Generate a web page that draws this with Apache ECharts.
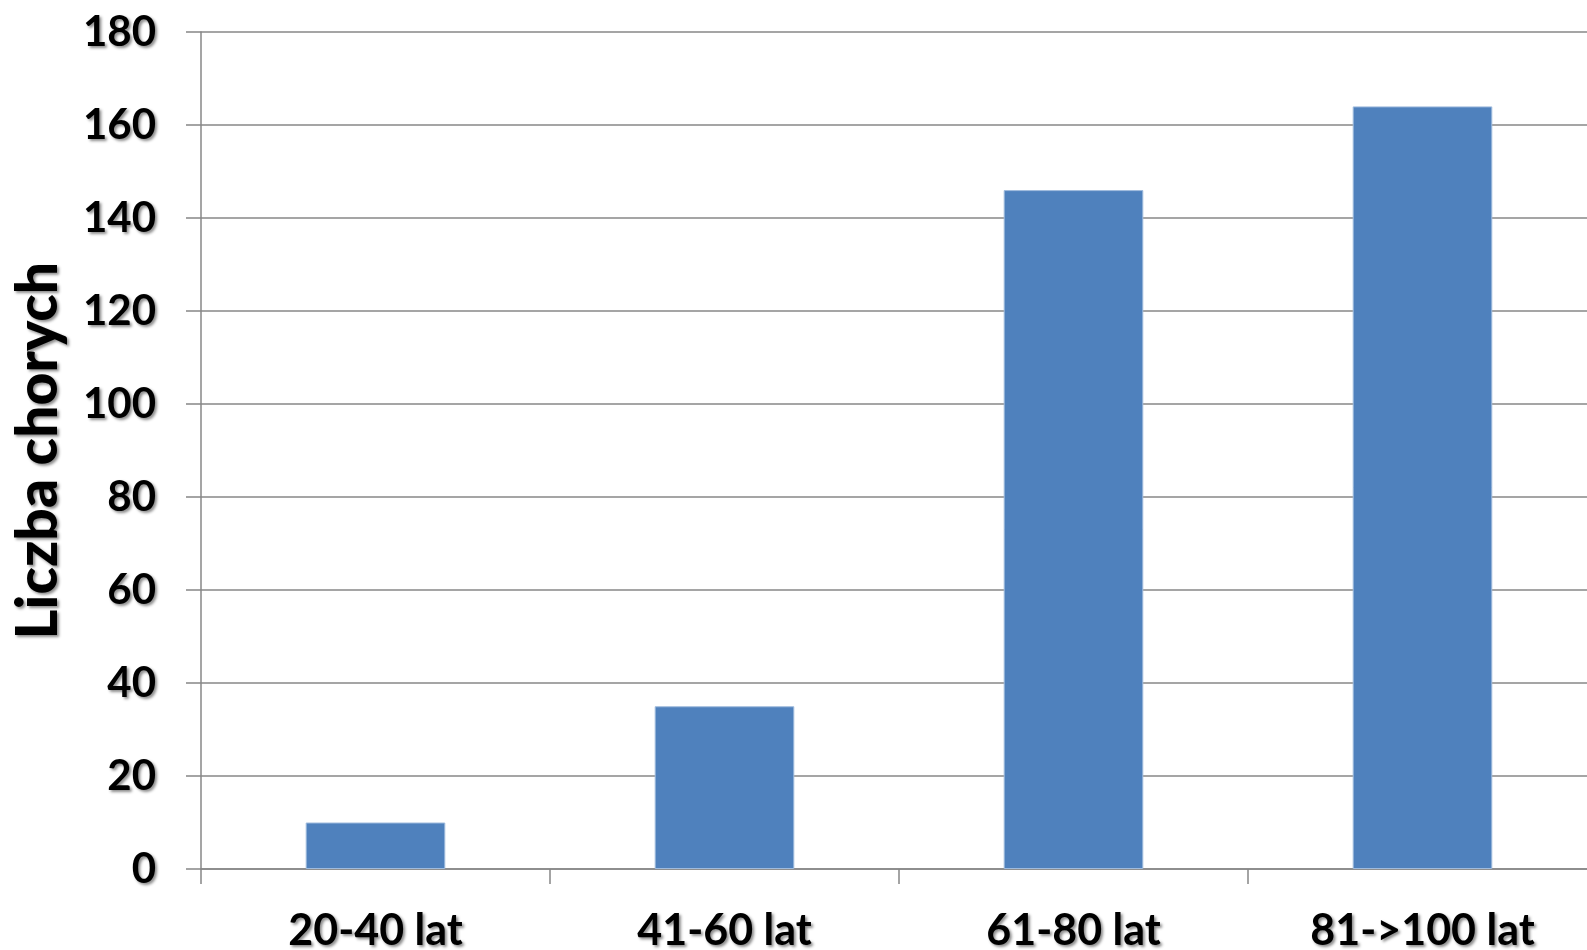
<!DOCTYPE html>
<html>
<head>
<meta charset="utf-8">
<script src="https://cdn.jsdelivr.net/npm/echarts@6/dist/echarts.min.js"></script>
<style>
html,body{margin:0;padding:0;background:#fff;}
#chart{width:1587px;height:950px;}
</style>
</head>
<body>
<div id="chart"></div>
<script>
const categories = ['20-40 lat', '41-60 lat', '61-80 lat', '81->100 lat'];
const values = [10, 35, 146, 164];
const yAxisTitle = 'Liczba chorych';
const yMin = 0, yMax = 180, yInterval = 20;

const shadow = {
  textShadowColor: 'rgba(0,0,0,0.45)',
  textShadowBlur: 3,
  textShadowOffsetX: 2,
  textShadowOffsetY: 2
};
const fontFam = 'Lato, "Open Sans", sans-serif';
const axisGray = '#878787';

const chart = echarts.init(document.getElementById('chart'), null, {renderer: 'canvas'});
chart.setOption({
  animation: false,
  backgroundColor: '#ffffff',
  grid: {left: 201, top: 32, bottom: 81, right: -10, containLabel: false, outerBoundsMode: 'none'},
  xAxis: {
    type: 'category',
    data: categories,
    axisLine: {show: true, lineStyle: {color: axisGray, width: 1.5}},
    axisTick: {show: true, length: 15, lineStyle: {color: axisGray, width: 1.5}},
    axisLabel: Object.assign({
      margin: 41,
      color: '#000',
      fontFamily: fontFam,
      fontWeight: 'bold',
      fontSize: 43
    }, shadow),
    splitLine: {show: false}
  },
  yAxis: {
    type: 'value',
    min: yMin, max: yMax, interval: yInterval,
    name: yAxisTitle,
    nameLocation: 'middle',
    nameRotate: 90,
    nameGap: 134,
    nameTextStyle: Object.assign({
      color: '#000',
      fontFamily: fontFam,
      fontWeight: 900,
      fontSize: 57
    }, shadow),
    axisLine: {show: true, lineStyle: {color: axisGray, width: 1.5}},
    axisTick: {show: true, length: 15, lineStyle: {color: axisGray, width: 1.5}},
    axisLabel: Object.assign({
      margin: 45,
      color: '#000',
      fontFamily: fontFam,
      fontWeight: 'bold',
      fontSize: 42
    }, shadow),
    splitLine: {show: true, lineStyle: {color: axisGray, width: 1.5}}
  },
  series: [{
    type: 'bar',
    data: values,
    barWidth: '40%',
    itemStyle: {color: '#4f81bd', borderColor: '#9fbbdd', borderWidth: 1}
  }]
});
</script>
</body>
</html>
